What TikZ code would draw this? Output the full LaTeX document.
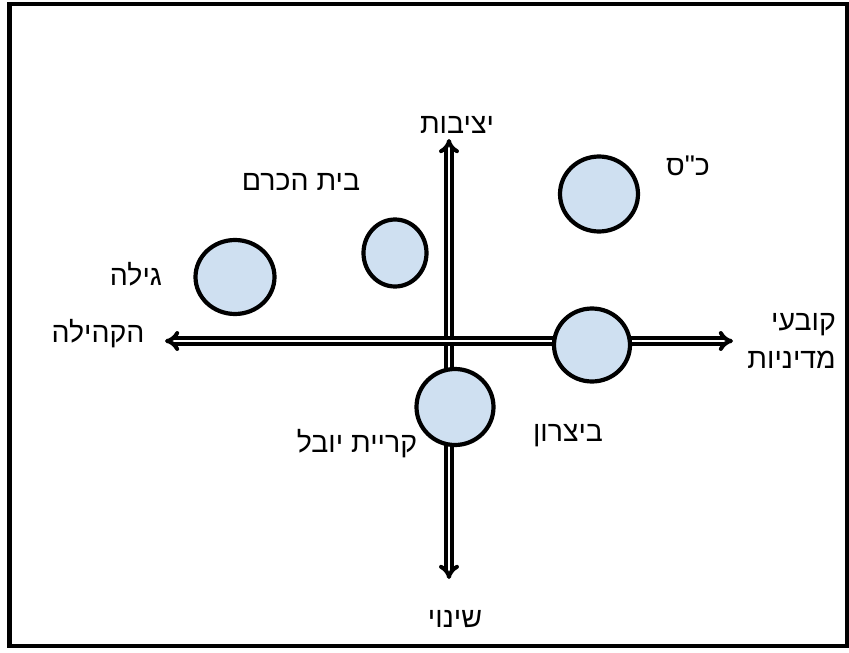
\documentclass[tikz,border=0pt]{standalone}
\usepackage{fontspec}
\TeXXeTstate=1
\newfontfamily\hebfont[Script=Hebrew]{Liberation Sans}
\usetikzlibrary{arrows.meta,shapes.geometric}
\definecolor{cfill}{RGB}{207,224,241}
\begin{document}
\begin{tikzpicture}[x=1pt,y=-1pt,
  city/.style={ellipse, draw, line width=4.2pt, fill=cfill, inner sep=0pt},
  lbl/.style={font=\hebfont\fontsize{28.5}{34}\selectfont, inner sep=0pt, anchor=base},
  axis/.style={double=white, draw=black, line width=4pt, double distance=2pt, {Implies[scale=1.0]}-{Implies[scale=1.0]}}
]
\useasboundingbox (0,0) rectangle (849,653);
\node[draw, line width=4.5pt, minimum width=838pt, minimum height=642pt, inner sep=0pt] (frame) at (428.5,325) {};
% axes
\coordinate (ytop) at (449,139);
\coordinate (ybot) at (449,579);
\coordinate (xleft) at (165,341);
\coordinate (xright) at (733,341);
\draw[axis] (ytop) -- (ybot);
\draw[axis] (xleft) -- (xright);
% cities
\node[city, minimum width=78pt, minimum height=75pt] (ks) at (599,194) {};
\node[city, minimum width=63pt, minimum height=67pt] (bh) at (395,253) {};
\node[city, minimum width=79pt, minimum height=74pt] (gila) at (235,277) {};
\node[city, minimum width=76pt, minimum height=73pt] (bitz) at (592,345) {};
\node[city, minimum width=77pt, minimum height=76pt] (ky) at (455,407) {};
% labels
\node[lbl] (lstab) at (457,133) {\beginR יציבות\endR};
\node[lbl] (lchange) at (455,627) {\beginR שינוי\endR};
\node[lbl] (lks) at (688,175) {\beginR כ"ס\endR};
\node[lbl] (lbh) at (301,190) {\beginR בית הכרם\endR};
\node[lbl] (lgila) at (136,285) {\beginR גילה\endR};
\node[lbl] (lcomm) at (98,342) {\beginR הקהילה\endR};
\node[lbl] (lbitz) at (568,441) {\beginR ביצרון\endR};
\node[lbl] (lky) at (357,452) {\beginR קריית יובל\endR};
\node[lbl, anchor=base east] (lpol1) at (836,330) {\beginR קובעי\endR};
\node[lbl, anchor=base east] (lpol2) at (836,368) {\beginR מדיניות\endR};
\end{tikzpicture}
\end{document}
